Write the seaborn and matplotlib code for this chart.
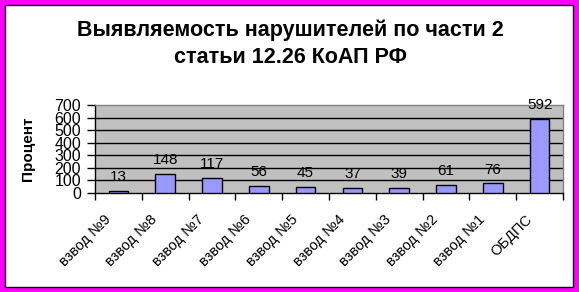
import matplotlib
matplotlib.use("Agg")
import matplotlib.pyplot as plt
import matplotlib.patches as mpatches
import matplotlib.transforms as mtransforms
import seaborn as sns
import pandas as pd
import numpy as np

categories = ["взвод №9", "взвод №8", "взвод №7", "взвод №6", "взвод №5",
              "взвод №4", "взвод №3", "взвод №2", "взвод №1", "ОБДПС"]
values = [13, 148, 117, 56, 45, 37, 39, 61, 76, 592]
yticks = [0, 100, 200, 300, 400, 500, 600, 700]
title = "Выявляемость нарушителей по части 2\nстатьи 12.26 КоАП РФ"
ylabel = "Процент"

sns.set_style("white")
plt.rcParams['font.family'] = ['Liberation Sans', 'DejaVu Sans']
plt.rcParams['text.color'] = 'black'
plt.rcParams['axes.labelcolor'] = 'black'
plt.rcParams['xtick.color'] = 'black'
plt.rcParams['ytick.color'] = 'black'

W, H = 579, 292
fig = plt.figure(figsize=(W / 100, H / 100), dpi=100)
fig.patch.set_facecolor("#FF00FF")
fig.patches.append(mpatches.Rectangle((5 / W, 5 / H), (W - 11) / W, (H - 10) / H,
                                      transform=fig.transFigure, facecolor="white",
                                      edgecolor="black", linewidth=1, zorder=-5))

left, right, top, bottom = 95, 563, 105, 193
ax = fig.add_axes([left / W, 1 - bottom / H, (right - left) / W, (bottom - top) / H])
ax.set_zorder(2)
ax.set_facecolor("#C0C0C0")

df = pd.DataFrame({"cat": categories, "val": values})
sns.barplot(data=df, x="cat", y="val", color="#9999FF", saturation=1,
            edgecolor="black", linewidth=1, width=0.42, ax=ax, zorder=3)

ax.set_ylim(0, 700)
ax.set_xlim(-0.5, len(categories) - 0.5)
ax.set_yticks(yticks)
ax.set_yticklabels([str(t) for t in yticks], fontsize=11.5)
for y in yticks[1:-1]:
    ax.axhline(y, color="black", linewidth=1, zorder=1)

ax.set_xticks(np.arange(len(categories)))
ax.set_xticklabels(categories, rotation=45, ha="right", fontsize=10.5)
ax.set_xticks(np.arange(len(categories) + 1) - 0.5, minor=True)
ax.tick_params(axis="x", which="major", length=0, pad=14)
ax.tick_params(axis="x", which="minor", length=5, width=1, color="black", direction="out")
ax.tick_params(axis="y", length=6, width=1, color="black", direction="out", pad=4)
ax.tick_params(axis="both", which="both", bottom=True, left=True)

shift = mtransforms.ScaledTranslation(-5 / 100, 0, fig.dpi_scale_trans)
for lbl in ax.get_xticklabels():
    lbl.set_transform(lbl.get_transform() + shift)

for s in ["top", "right"]:
    ax.spines[s].set_color("#808080")
    ax.spines[s].set_linewidth(1)
for s in ["left", "bottom"]:
    ax.spines[s].set_color("black")
    ax.spines[s].set_linewidth(1)

ax.bar_label(ax.containers[0], labels=[str(v) for v in values], padding=5, fontsize=11)

ax.set_xlabel("")
ax.set_ylabel(ylabel, fontsize=11, fontweight="bold")
ax.yaxis.set_label_coords((35 - left) / (right - left), 0.5)

fig.text(290 / W, 1 - 44 / H, title, ha="center", va="center", fontsize=15.5,
         fontweight="bold", linespacing=1.4)

fig.savefig("out.png", dpi=100, facecolor=fig.get_facecolor())
